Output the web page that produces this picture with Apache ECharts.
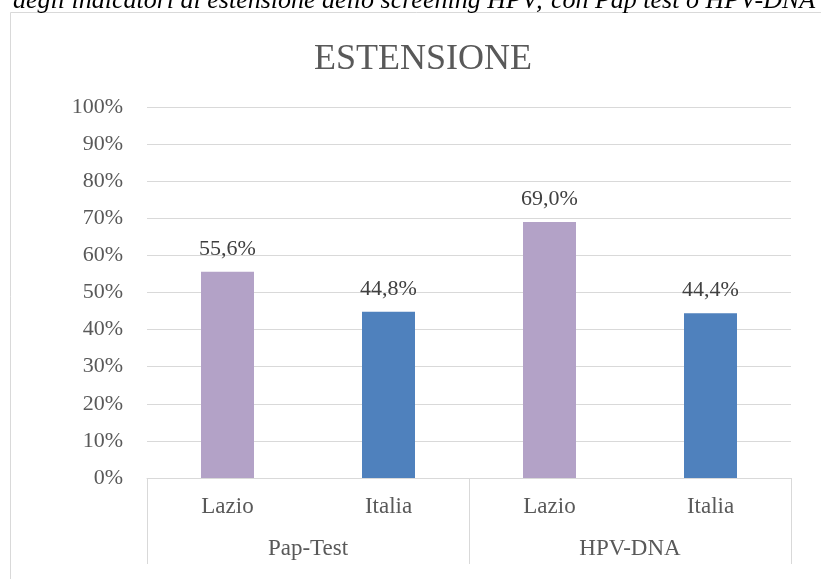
<!DOCTYPE html>
<html>
<head>
<meta charset="utf-8">
<script src="https://cdn.jsdelivr.net/npm/echarts@6/dist/echarts.min.js"></script>
<style>
html,body{margin:0;padding:0;background:#fff;}
#c{width:821px;height:579px;}
</style>
</head>
<body>
<div id="c"></div>
<script>
const categories = ['Lazio', 'Italia', 'Lazio', 'Italia'];
const groups = ['Pap-Test', 'HPV-DNA'];
const values = [55.6, 44.8, 69.0, 44.4];
const barColors = ['#B3A2C7', '#4F81BD', '#B3A2C7', '#4F81BD'];
const yTicks = [0, 10, 20, 30, 40, 50, 60, 70, 80, 90, 100];
const chartTitle = 'ESTENSIONE';
const caption = 'degli indicatori di estensione dello screening HPV; con Pap test o HPV-DNA';

const FONT = '"Liberation Serif", "Times New Roman", serif';
const chart = echarts.init(document.getElementById('c'), null, {renderer: 'canvas'});
chart.setOption({
  animation: false,
  backgroundColor: '#ffffff',
  title: {
    text: chartTitle,
    left: 309,
    top: 37,
    textStyle: {fontFamily: FONT, fontSize: 36, fontWeight: 'normal', color: '#595959'}
  },
  graphic: [
    {
      type: 'rect', z: -1,
      shape: {x: 10.5, y: 12.5, width: 900, height: 700},
      style: {fill: '#ffffff', stroke: '#d9d9d9', lineWidth: 1}
    },
    {
      type: 'text', z: 10,
      x: 13, y: -12,
      style: {
        text: caption,
        font: 'italic 26px ' + FONT,
        fill: '#000000',
        textAlign: 'left'
      }
    }
  ],
  grid: {left: 147, right: 30, top: 107, bottom: 101, containLabel: false},
  xAxis: [
    {
      type: 'category',
      data: categories,
      axisLine: {show: true, lineStyle: {color: '#d9d9d9', width: 1}},
      axisTick: {show: false},
      splitLine: {show: false},
      axisLabel: {fontFamily: FONT, fontSize: 23, color: '#595959', margin: 17, interval: 0}
    },
    {
      type: 'category',
      data: groups,
      position: 'bottom',
      axisLine: {show: false},
      axisTick: {show: true, length: 86, lineStyle: {color: '#d9d9d9', width: 1}},
      splitLine: {show: false},
      axisLabel: {fontFamily: FONT, fontSize: 23, color: '#595959', margin: 59, interval: 0}
    }
  ],
  yAxis: {
    type: 'value',
    min: yTicks[0],
    max: yTicks[yTicks.length - 1],
    interval: yTicks[1] - yTicks[0],
    axisLine: {show: false},
    axisTick: {show: false},
    splitLine: {lineStyle: {color: '#d9d9d9', width: 1}},
    axisLabel: {fontFamily: FONT, fontSize: 22, color: '#595959', margin: 24, formatter: '{value}%'}
  },
  series: [{
    type: 'bar',
    xAxisIndex: 0,
    barWidth: 53,
    data: values.map((v, i) => ({value: v, itemStyle: {color: barColors[i]}})),
    label: {
      show: true,
      position: 'top',
      distance: 12,
      fontFamily: FONT,
      fontSize: 22,
      color: '#404040',
      formatter: p => p.value.toFixed(1).replace('.', ',') + '%'
    }
  }]
});
</script>
</body>
</html>
